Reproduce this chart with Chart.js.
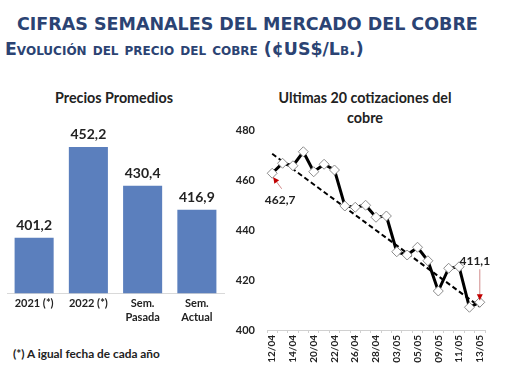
<!DOCTYPE html>
<html>
<head>
<meta charset="utf-8">
<script src="https://cdn.jsdelivr.net/npm/chart.js@4/dist/chart.umd.min.js"></script>
<style>
  html, body { margin: 0; padding: 0; background: #ffffff; }
  body { width: 510px; height: 382px; position: relative; overflow: hidden; font-family: Lato, sans-serif; }
  .t { position: absolute; white-space: nowrap; line-height: 1; }
  #h1 { font-family: "DejaVu Sans", Verdana, sans-serif; font-weight: bold; color: #2b4373; }
  #h2 { font-family: "DejaVu Sans", Verdana, sans-serif; font-weight: bold; color: #2b4373; font-variant: small-caps; }
  .ct { font-family: Lato, sans-serif; font-weight: bold; color: #222; }
  #foot { font-family: Lato, sans-serif; font-weight: bold; color: #222; }
  .wrap { position: absolute; }
</style>
</head>
<body>
<div id="h1" class="t">CIFRAS SEMANALES DEL MERCADO DEL COBRE</div>
<div id="h2" class="t">Evolución del precio del cobre (¢US$/Lb.)</div>
<div id="t1" class="t ct">Precios Promedios</div>
<div id="t2a" class="t ct">Ultimas 20 cotizaciones del</div>
<div id="t2b" class="t ct">cobre</div>
<div id="foot" class="t">(*) A igual fecha de cada año</div>
<div class="wrap" style="left:0px;top:120px;width:240px;height:210px;"><canvas id="c1"></canvas></div>
<div class="wrap" style="left:228px;top:120px;width:282px;height:262px;"><canvas id="c2"></canvas></div>
<script>
// ---- data ----
const barCategories = ['2021 (*)', '2022 (*)', ['Sem.', 'Pasada'], ['Sem.', 'Actual']];
const barValues = [401.2, 452.2, 430.4, 416.9];

const dates = ['12/04', '13/04', '14/04', '19/04', '20/04', '21/04', '22/04', '25/04', '26/04', '27/04',
               '28/04', '29/04', '03/05', '04/05', '05/05', '06/05', '09/05', '10/05', '11/05', '12/05', '13/05'];
const prices = [462.7, 466.7, 465.7, 471.3, 463.3, 466.3, 464.0, 449.6, 449.1, 449.9,
                445.1, 445.6, 431.3, 430.0, 433.1, 427.7, 415.6, 424.7, 425.3, 409.1, 411.1];
const trendEnds = [470.5, 409.3];
const priceTicks = [400, 420, 440, 460, 480];

const fmt = v => v.toFixed(1).replace('.', ',');

// ---- text placement helper ----
function place(id, targetW, left, centerX, centerY, baseSize) {
  const el = document.getElementById(id);
  el.style.fontSize = baseSize + 'px';
  const w = el.getBoundingClientRect().width;
  const size = baseSize * targetW / w;
  el.style.fontSize = size + 'px';
  const r = el.getBoundingClientRect();
  el.style.left = (left !== null ? left : centerX - r.width / 2) + 'px';
  el.style.top = (centerY - r.height / 2) + 'px';
}
place('h1', 461, 17, null, 25, 16);
place('h2', 358, 5, null, 50, 16);
place('t1', 118, null, 114, 98, 14);
place('t2a', 173, null, 365, 98, 15);
place('t2b', 36, null, 365, 118, 15);
place('foot', 147, 13, null, 354, 11);

Chart.defaults.font.family = 'Lato, sans-serif';
Chart.defaults.font.weight = 'bold';
Chart.defaults.color = '#222';
Chart.defaults.animation = false;

// ---- left: bar chart ----
const barLabelPlugin = {
  id: 'barLabels',
  afterDatasetsDraw(chart) {
    const ctx = chart.ctx;
    const meta = chart.getDatasetMeta(0);
    ctx.save();
    ctx.font = 'bold 14px Lato, sans-serif';
    ctx.fillStyle = '#222';
    ctx.textAlign = 'center';
    ctx.textBaseline = 'middle';
    meta.data.forEach((bar, i) => {
      ctx.fillText(fmt(barValues[i]), bar.x, bar.y - 12);
    });
    ctx.restore();
  }
};

new Chart(document.getElementById('c1'), {
  type: 'bar',
  data: {
    labels: barCategories,
    datasets: [{
      data: barValues,
      backgroundColor: '#5b7fbd',
      borderWidth: 0,
      barPercentage: 0.72,
      categoryPercentage: 1.0
    }]
  },
  options: {
    responsive: true,
    maintainAspectRatio: false,
    layout: { padding: { top: 13, left: 7, right: 16, bottom: 0 } },
    plugins: { legend: { display: false }, tooltip: { enabled: false }, title: { display: false } },
    scales: {
      x: {
        grid: { display: false, drawTicks: false },
        border: { display: true, color: '#d9d9d9' },
        ticks: { font: { size: 11, weight: 'bold' }, color: '#222', padding: 4, maxRotation: 0 },
        afterFit(s) { s.height = 36.7; }
      },
      y: {
        display: false,
        min: 370,
        max: 460
      }
    }
  },
  plugins: [barLabelPlugin]
});

// ---- right: line chart ----
function arrow(ctx, x1, y1, x2, y2, color) {
  ctx.save();
  ctx.strokeStyle = color;
  ctx.fillStyle = '#c00000';
  ctx.lineWidth = 1;
  ctx.beginPath();
  ctx.moveTo(x1, y1);
  ctx.lineTo(x2, y2);
  ctx.stroke();
  const a = Math.atan2(y2 - y1, x2 - x1);
  const L = 6, W = 3;
  ctx.beginPath();
  ctx.moveTo(x2, y2);
  ctx.lineTo(x2 - L * Math.cos(a) + W * Math.sin(a), y2 - L * Math.sin(a) - W * Math.cos(a));
  ctx.lineTo(x2 - L * Math.cos(a) - W * Math.sin(a), y2 - L * Math.sin(a) + W * Math.cos(a));
  ctx.closePath();
  ctx.fill();
  ctx.restore();
}

const annotPlugin = {
  id: 'annot',
  afterDatasetsDraw(chart) {
    const ctx = chart.ctx;
    const meta = chart.getDatasetMeta(0);
    const first = meta.data[0];
    const last = meta.data[meta.data.length - 1];
    arrow(ctx, first.x + 9.5, first.y + 15.5, first.x + 1, first.y + 4, '#d08a8a');
    arrow(ctx, last.x, last.y - 33, last.x, last.y - 2, '#d08a8a');
    ctx.save();
    ctx.font = 'bold 12px Lato, sans-serif';
    ctx.fillStyle = '#222';
    ctx.textAlign = 'center';
    ctx.textBaseline = 'middle';
    ctx.fillText(fmt(prices[0]), first.x + 8, first.y + 26.5);
    ctx.fillText(fmt(prices[prices.length - 1]), last.x - 5, last.y - 41.5);
    ctx.restore();
  }
};

new Chart(document.getElementById('c2'), {
  type: 'line',
  data: {
    labels: dates,
    datasets: [{
      data: prices,
      borderColor: '#000000',
      borderWidth: 3,
      tension: 0,
      pointStyle: 'rectRot',
      pointRadius: 5,
      pointBackgroundColor: '#ffffff',
      pointBorderColor: '#8c8c8c',
      pointBorderWidth: 1,
      order: 0
    }, {
      data: [{ x: dates[0], y: trendEnds[0] }, { x: dates[dates.length - 1], y: trendEnds[1] }],
      borderColor: '#000000',
      borderWidth: 2,
      borderDash: [5, 3],
      pointRadius: 0,
      tension: 0,
      order: 1
    }]
  },
  options: {
    responsive: true,
    maintainAspectRatio: false,
    layout: { padding: { top: 10, left: 0, right: 25, bottom: 0 } },
    plugins: { legend: { display: false }, tooltip: { enabled: false }, title: { display: false } },
    scales: {
      x: {
        offset: true,
        grid: { display: true, drawOnChartArea: false, drawTicks: true, tickLength: 3, color: '#d0d0d0', offset: true },
        border: { display: true, color: '#d0d0d0' },
        ticks: {
          autoSkip: false,
          minRotation: 90,
          maxRotation: 90,
          padding: 2,
          font: { size: 10, weight: 'bold' },
          color: '#222',
          callback: (v, i) => (i % 2 === 0 ? dates[i] : '')
        },
        afterFit(s) { s.height = 52; s.paddingTop = 0; s.paddingBottom = 0; }
      },
      y: {
        min: priceTicks[0],
        max: priceTicks[priceTicks.length - 1],
        afterBuildTicks(s) { s.ticks = priceTicks.map(v => ({ value: v })); },
        grid: { display: false, drawTicks: false },
        border: { display: false },
        ticks: { font: { size: 11, weight: 'bold' }, color: '#222', padding: 12 },
        afterFit(s) { s.width = 39; s.paddingTop = 0; s.paddingBottom = 0; }
      }
    }
  },
  plugins: [annotPlugin]
});
</script>
</body>
</html>
